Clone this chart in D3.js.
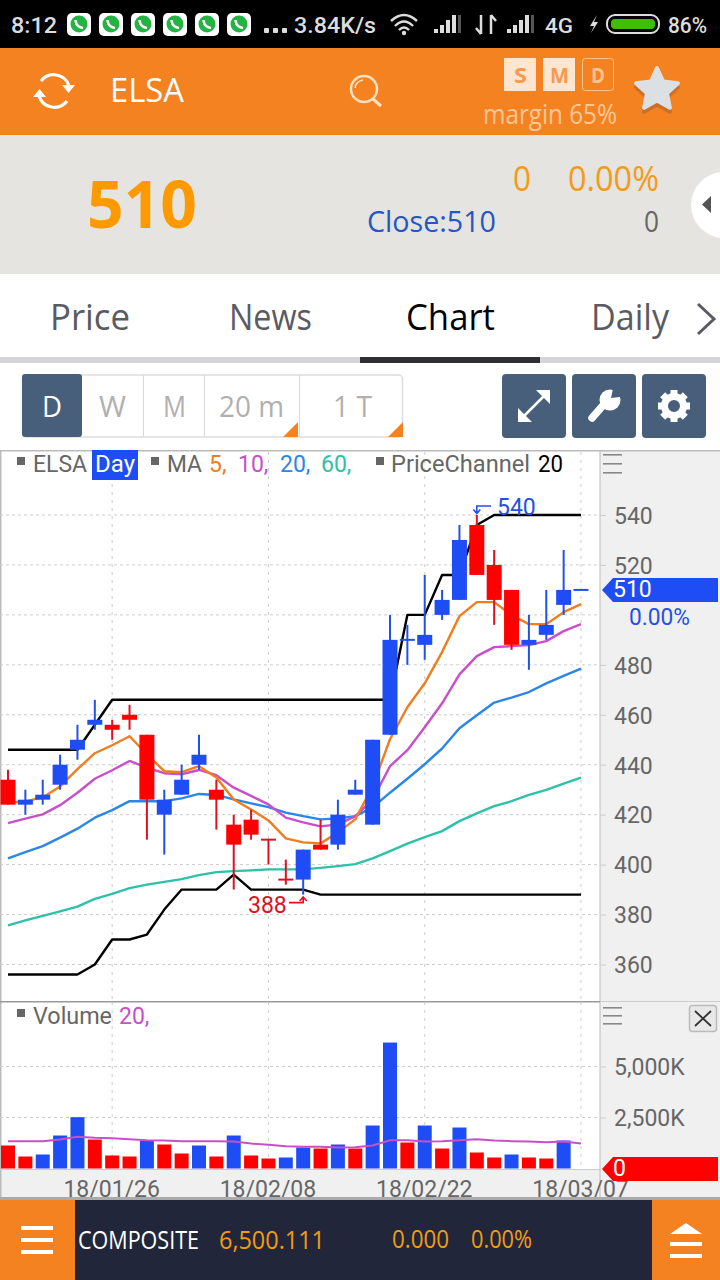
<!DOCTYPE html>
<html lang="en">
<head>
    <meta charset="UTF-8">
    <title>ELSA Chart</title>
    <script src="https://cdn.jsdelivr.net/npm/d3@7"></script>
    <style type="text/css">
        html, body {
            margin: 0;
            padding: 0;
            background: #fff;
        }

        svg {
            display: block;
        }

        .axis path {
            display: none;
        }

        .axis line {
            stroke: #ccc;
        }

        .axis text {
            font-family: Roboto, sans-serif;
            font-size: 23px;
            fill: #666;
        }
    </style>
</head>
<body>
<div id="chart"></div>
<script>
    var dates = ["18/01/18", "18/01/19", "18/01/22", "18/01/23", "18/01/24", "18/01/25", "18/01/26", "18/01/29", "18/01/30", "18/01/31",
        "18/02/01", "18/02/02", "18/02/05", "18/02/06", "18/02/07", "18/02/08", "18/02/09", "18/02/12", "18/02/13", "18/02/14",
        "18/02/15", "18/02/19", "18/02/20", "18/02/21", "18/02/22", "18/02/23", "18/02/26", "18/02/27", "18/02/28", "18/03/01",
        "18/03/02", "18/03/05", "18/03/06", "18/03/07"];
    var dateTicks = ["18/01/26", "18/02/08", "18/02/22", "18/03/07"];
    var priceTicks = [360, 380, 400, 420, 440, 460, 480, 500, 520, 540];
    var priceLabels = [360, 380, 400, 420, 440, 460, 480, 520, 540];
    var volumeTicks = [2500, 5000];

    var open = [434, 424, 426, 432, 446, 456, 456, 460, 452, 420, 428, 440, 430, 416, 418, 410, 394, 394, 408, 408, 428, 416, 452, 490, 488, 500, 506, 536, 520, 510, 488, 492, 504, 510];
    var high = [438, 430, 434, 444, 456, 466, 458, 464, 452, 430, 440, 452, 434, 420, 422, 410, 402, 406, 418, 426, 434, 450, 500, 496, 516, 510, 536, 540, 526, 510, 500, 510, 526, 510];
    var low = [424, 420, 424, 430, 442, 454, 450, 454, 410, 404, 428, 438, 414, 390, 410, 400, 392, 388, 406, 406, 428, 416, 452, 480, 482, 498, 506, 516, 496, 486, 478, 490, 500, 510];
    var close = [424, 426, 428, 440, 450, 458, 454, 458, 426, 426, 434, 444, 426, 408, 412, 410, 394, 406, 406, 420, 430, 450, 490, 490, 492, 506, 530, 516, 506, 488, 490, 496, 510, 510];

    var ma5 = [424.9, 425.3, 426.9, 431.3, 438.2, 444.6, 447.8, 451.4, 444.2, 437.4, 437.0, 439.4, 434.9, 426.1, 422.1, 417.7, 410.5, 408.9, 408.5, 412.9, 418.1, 431.3, 450.2, 463.0, 472.6, 485.1, 499.5, 505.1, 505.1, 499.9, 496.3, 496.3, 501.1, 504.3];
    var ma10 = [416.6, 418.4, 420.1, 423.8, 428.8, 434.4, 437.8, 441.5, 438.8, 436.6, 436.2, 437.9, 435.8, 430.8, 427.5, 424.1, 418.8, 416.9, 415.3, 416.1, 419.3, 426.1, 439.4, 445.8, 455.0, 464.6, 476.2, 483.5, 487.1, 487.5, 487.9, 489.5, 493.5, 496.3];
    var ma20 = [402.5, 405.0, 407.4, 410.8, 414.4, 418.8, 421.8, 425.4, 425.4, 425.4, 426.5, 428.3, 427.9, 426.1, 424.5, 423.0, 420.8, 419.4, 418.1, 418.5, 419.4, 422.9, 428.8, 434.4, 440.2, 446.5, 454.6, 459.8, 464.9, 466.9, 469.1, 472.6, 475.6, 478.5];
    var ma60 = [375.7, 377.7, 379.5, 381.3, 383.2, 386.3, 388.3, 390.6, 392.0, 393.1, 394.2, 395.8, 397.0, 397.4, 397.7, 398.1, 398.1, 398.1, 398.7, 399.4, 400.2, 402.5, 405.4, 408.4, 411.0, 413.4, 417.4, 420.5, 423.4, 425.4, 427.9, 429.9, 432.4, 434.8];
    var channelHigh = [446, 446, 446, 446, 446, 456, 466, 466, 466, 466, 466, 466, 466, 466, 466, 466, 466, 466, 466, 466, 466, 466, 466, 500, 500, 516, 516, 536, 540, 540, 540, 540, 540, 540];
    var channelLow = [356, 356, 356, 356, 356, 360, 370, 370, 372, 382, 390, 390, 390, 396, 390, 390, 390, 390, 388, 388, 388, 388, 388, 388, 388, 388, 388, 388, 388, 388, 388, 388, 388, 388];

    var volume = [1127, 588, 686, 1617, 2515, 1421, 637, 588, 1372, 1176, 735, 1127, 588, 1617, 637, 490, 539, 1029, 980, 1176, 980, 2107, 6174, 1274, 2107, 980, 2009, 784, 539, 686, 539, 490, 1372, 0];
    var volumeMa = [1339, 1339, 1339, 1421, 1552, 1503, 1486, 1437, 1388, 1372, 1339, 1339, 1339, 1323, 1225, 1160, 1094, 1062, 1062, 1029, 1045, 1127, 1388, 1388, 1323, 1339, 1388, 1437, 1372, 1339, 1323, 1290, 1323, 1225];

    var RED = "#ff0000", BLUE = "#1f4df5", ORANGE = "#f58220", SLATE = "#475f7b";
    var UI_FONT = "'Open Sans', sans-serif", CHART_FONT = "Roboto, sans-serif";

    var svg = d3.select("#chart").append("svg").attr("width", 720).attr("height", 1280);

    var x = d3.scalePoint().domain(dates).range([8, 581]);
    var yPrice = d3.scaleLinear().domain([360, 540]).range([964.5, 515]);
    var yVolume = d3.scaleLinear().domain([0, 5000]).range([1168.5, 1066.5]);

    // text helper, width pins the string to the measured width of the screenshot
    function label(px, py, str, size, color, width, family, weight) {
        var t = svg.append("text")
            .attr("x", px).attr("y", py)
            .attr("font-family", family || UI_FONT)
            .attr("font-size", size)
            .attr("font-weight", weight || 400)
            .attr("fill", color)
            .text(str);
        if (width) {
            t.attr("textLength", width).attr("lengthAdjust", "spacingAndGlyphs");
        }
        return t;
    }

    function box(px, py, w, h, fill, r) {
        return svg.append("rect")
            .attr("x", px).attr("y", py).attr("width", w).attr("height", h)
            .attr("rx", r || 0).attr("fill", fill);
    }

    function stroke(d, color, w) {
        return svg.append("path").attr("d", d).attr("fill", "none")
            .attr("stroke", color).attr("stroke-width", w);
    }

    function drawStatusBar() {
        box(0, 0, 720, 48, "#000");
        label(11, 33, "8:12", 22, "#ddd", 46, CHART_FONT, 500);
        [67, 99, 131, 163, 195, 227].forEach(function (ix) {
            box(ix, 13, 24, 23, "#fff", 5);
            svg.append("circle").attr("cx", ix + 12).attr("cy", 24).attr("r", 8.5).attr("fill", "#25b245");
            stroke("M" + (ix + 8.5) + " 20Q" + (ix + 9) + " 27 " + (ix + 16) + " 28", "#fff", 2.6);
        });
        [264, 273, 282].forEach(function (dx) {
            box(dx, 28, 5, 5, "#ddd", 1);
        });
        label(294, 33, "3.84K/s", 22, "#ddd", 82, CHART_FONT, 500);
        stroke("M391 21Q404 9 417 21M395 26Q404 17 413 26M399 30Q404 25 409 30", "#ddd", 2.4);
        svg.append("circle").attr("cx", 404).attr("cy", 33).attr("r", 2.2).attr("fill", "#ddd");
        [434, 507].forEach(function (sx) {
            [[0, 4], [6, 8], [12, 13], [18, 18]].forEach(function (b) {
                box(sx + b[0], 33 - b[1], 4, b[1], "#ddd");
            });
            box(sx + 24, 15, 3, 18, "#555");
        });
        stroke("M481 15V34M476 28L481 34M491 15V34M491 15L496 21", "#ddd", 2.5);
        label(545, 33, "4G", 21, "#ddd", 28, CHART_FONT, 500);
        svg.append("path").attr("d", "M597 15L590 26H594L591 33L598 22H594Z").attr("fill", "#ddd");
        box(607, 15, 52, 18, "none", 8).attr("stroke", "#ddd").attr("stroke-width", 2);
        box(611, 19, 44, 10, "#3fbf00", 4);
        label(668, 33, "86%", 22, "#ddd", 39, CHART_FONT, 500);
    }

    function drawHeader() {
        box(0, 48, 720, 87, ORANGE);
        stroke("M41 81A16 16 0 0 1 69 86M67 101A16 16 0 0 1 39 96", "#fff", 3.2);
        svg.append("path").attr("d", "M62 85H75L68.5 93Z").attr("fill", "#fff");
        svg.append("path").attr("d", "M33 97H46L39.5 89Z").attr("fill", "#fff");
        label(110, 102, "ELSA", 33, "#fff", 74);
        svg.append("circle").attr("cx", 364).attr("cy", 89).attr("r", 13).attr("fill", "none")
            .attr("stroke", "#fde0c0").attr("stroke-width", 2.5);
        stroke("M373 99L381 106", "#fde0c0", 3);
        stroke("M355 88A9 9 0 0 1 363 80", "#fde0c0", 1.5);
        box(504, 58, 32, 33, "#fde5cf");
        box(543, 58, 32, 33, "#fde5cf");
        box(582.5, 58.5, 31, 32, "none", 3).attr("stroke", "#fbc48f").attr("stroke-width", 1);
        label(514, 83, "S", 22, "#f59a50", 13, UI_FONT, 700);
        label(550, 83, "M", 22, "#f59a50", 19, UI_FONT, 700);
        label(591, 83, "D", 22, "#fbc48f", 14, UI_FONT, 700);
        label(483, 124, "margin 65%", 27, "#fbc895", 134);
        var star = d3.range(10).map(function (i) {
            var r = i % 2 ? 10.5 : 22, a = -Math.PI / 2 + i * Math.PI / 5;
            return [r * Math.cos(a), r * Math.sin(a)];
        });
        svg.append("polygon").attr("points", star.map(function (p) { return (p[0] + 657) + "," + (p[1] + 94); }).join(" "))
            .attr("fill", "#c9702a").attr("stroke", "#c9702a").attr("stroke-width", 4).attr("stroke-linejoin", "round");
        svg.append("polygon").attr("points", star.map(function (p) { return (p[0] + 657) + "," + (p[1] + 90); }).join(" "))
            .attr("fill", "#dde0e3").attr("stroke", "#dde0e3").attr("stroke-width", 4).attr("stroke-linejoin", "round");
    }

    function drawQuote() {
        box(0, 135, 720, 139, "#e5e4e1");
        label(87, 228, "510", 67, "#ff9900", 110, UI_FONT, 700);
        label(513, 191, "0", 35, "#f59a17", 18);
        label(568, 191, "0.00%", 35, "#f59a17", 91);
        label(367, 232, "Close:510", 30, "#2456c6", 129);
        label(644, 232, "0", 30, "#666", 15);
        svg.append("circle").attr("cx", 724).attr("cy", 205).attr("r", 33).attr("fill", "#fff");
        svg.append("path").attr("d", "M711 196V213L702 204.5Z").attr("fill", "#555");
    }

    function drawTabs() {
        box(0, 274, 720, 83, "#fff");
        label(50, 330, "Price", 36, "#5a5a62", 80);
        label(229, 330, "News", 36, "#5a5a62", 83);
        label(406, 330, "Chart", 36, "#000", 89);
        label(591, 330, "Daily", 36, "#5a5a62", 78);
        stroke("M698 304L714 319L698 334", "#5a5a62", 3);
        box(0, 357, 720, 6, "#d5d5d9");
        box(360, 357, 180, 6, "#2e2e33");
    }

    function drawToolbar() {
        box(22.5, 375, 380, 62, "#fff", 4).attr("stroke", "#ddd").attr("stroke-width", 1.5);
        box(22, 374, 60, 63, SLATE, 3);
        [143, 204, 299].forEach(function (dx) {
            box(dx, 375, 1, 62, "#d8d8d8");
        });
        label(42, 417, "D", 29, "#fff", 20);
        label(99, 417, "W", 29, "#b0b0b0", 27);
        label(163, 417, "M", 29, "#b0b0b0", 23);
        label(219, 417, "20 m", 29, "#b0b0b0", 65);
        label(333, 417, "1 T", 29, "#b0b0b0", 39);
        svg.append("path").attr("d", "M283 437L298 437L298 422Z").attr("fill", ORANGE);
        svg.append("path").attr("d", "M388 437L403 437L403 422Z").attr("fill", ORANGE);

        box(502, 374, 64, 64, SLATE, 4);
        box(572, 374, 64, 64, SLATE, 4);
        box(642, 374, 64, 64, SLATE, 4);
        stroke("M522 418L546 394", "#fff", 2.5);
        svg.append("path").attr("d", "M550 390V404L536 390ZM518 422V408L532 422Z").attr("fill", "#fff");
        // wrench: handle, round head, jaw cut out towards the upper right
        stroke("M592 418L606 402", "#fff", 7.5).attr("stroke-linecap", "round");
        svg.append("circle").attr("cx", 610).attr("cy", 400).attr("r", 10.5).attr("fill", "#fff");
        svg.append("path").attr("d", "M611 398L614 384L628 396Z").attr("fill", SLATE);
        svg.append("circle").attr("cx", 674).attr("cy", 406).attr("r", 9.5).attr("fill", "none")
            .attr("stroke", "#fff").attr("stroke-width", 7);
        d3.range(8).forEach(function (i) {
            box(670.5, 390, 7, 8, "#fff").attr("transform", "rotate(" + i * 45 + " 674 406)");
        });
    }

    function gridLines(ticks, yScale, top, bottom) {
        svg.append("g").selectAll("line").data(ticks).enter().append("line")
            .attr("x1", 0).attr("x2", 600)
            .attr("y1", yScale).attr("y2", yScale)
            .attr("stroke", "#ccc").attr("stroke-dasharray", "3,3");
        svg.append("g").selectAll("line").data(dateTicks).enter().append("line")
            .attr("x1", x).attr("x2", x)
            .attr("y1", top).attr("y2", bottom)
            .attr("stroke", "#ccc").attr("stroke-dasharray", "3,5");
    }

    function drawPanels() {
        box(600, 451, 120, 746, "#f0f0f0");
        box(0, 1170, 720, 27, "#f0f0f0");
        box(0, 450, 720, 1.5, "#bbb");
        box(0, 450, 1.5, 748, "#bbb");
        box(599.5, 451, 1, 746, "#bbb");
        box(0, 1001, 600, 1.5, "#999");
        box(600, 1001, 120, 1, "#ccc");
        box(0, 1169, 600, 1, "#ccc");
        [454, 463, 472, 1007, 1015, 1023].forEach(function (ly) {
            box(603, ly, 19, 1.6, "#888");
        });
        box(689.5, 1005.5, 27, 26, "#e8e8e8", 3).attr("stroke", "#bbb").attr("stroke-width", 1.5);
        stroke("M695 1011L711 1026M711 1011L695 1026", "#333", 1.8);
    }

    function seriesLine(values, yScale, color, w) {
        var line = d3.line()
            .x(function (d, i) { return x(dates[i]); })
            .y(function (d) { return yScale(d); });
        svg.append("path").datum(values)
            .attr("d", line)
            .attr("fill", "none")
            .attr("stroke", color)
            .attr("stroke-width", w)
            .attr("stroke-linejoin", "round");
    }

    function drawCandles() {
        var idx = d3.range(dates.length);
        var isDown = function (i) { return close[i] < open[i] || (close[i] === open[i] && i < 20); };
        var g = svg.append("g");
        g.selectAll("line.wick").data(idx).enter().append("line")
            .attr("class", "wick")
            .attr("x1", function (i) { return x(dates[i]); })
            .attr("x2", function (i) { return x(dates[i]); })
            .attr("y1", function (i) { return yPrice(high[i]); })
            .attr("y2", function (i) { return yPrice(low[i]); })
            .attr("stroke", function (i) { return isDown(i) ? "#dd1122" : "#2450e8"; })
            .attr("stroke-width", 2);
        g.selectAll("rect.body").data(idx).enter().append("rect")
            .attr("class", "body")
            .attr("x", function (i) { return x(dates[i]) - 7.5; })
            .attr("width", 15)
            .attr("y", function (i) { return yPrice(Math.max(open[i], close[i])) - (open[i] === close[i] ? 1 : 0); })
            .attr("height", function (i) {
                return open[i] === close[i] ? 2 : yPrice(Math.min(open[i], close[i])) - yPrice(Math.max(open[i], close[i]));
            })
            .attr("fill", function (i) {
                if (open[i] === close[i]) {
                    return isDown(i) ? "#dd1122" : "#2450e8";
                }
                return isDown(i) ? RED : BLUE;
            });
    }

    function drawVolume() {
        var idx = d3.range(dates.length).filter(function (i) { return volume[i] > 0; });
        svg.append("g").selectAll("rect").data(idx).enter().append("rect")
            .attr("x", function (i) { return x(dates[i]) - 7; })
            .attr("width", 14)
            .attr("y", function (i) { return yVolume(volume[i]); })
            .attr("height", function (i) { return yVolume(0) - yVolume(volume[i]); })
            // bars compare with the previous day's volume, not with the candle
            .attr("fill", function (i) { return i > 0 && volume[i] > volume[i - 1] ? BLUE : RED; });
        seriesLine(volumeMa, yVolume, "#c94fc9", 2);
    }

    function drawAxes() {
        svg.append("g").attr("class", "axis").attr("transform", "translate(600,0)")
            .call(d3.axisRight(yPrice).tickValues(priceLabels).tickSize(6).tickPadding(8));
        svg.append("g").attr("class", "axis").attr("transform", "translate(600,0)")
            .call(d3.axisRight(yVolume).tickValues(volumeTicks).tickSize(6).tickPadding(8)
                .tickFormat(function (d) { return d3.format(",")(d) + "K"; }));
        svg.selectAll(".axis .tick text").attr("dy", "0.36em");

        // date labels hang off the point scale and run past the plot edge on the right
        var dateAxis = svg.append("g").attr("class", "axis").attr("transform", "translate(-1,1170)")
            .call(d3.axisBottom(x).tickValues(dateTicks).tickSize(0).tickPadding(0));
        dateAxis.selectAll("text").attr("dy", 0).attr("y", 26.5);
    }

    function priceTag(ty, h, color, str) {
        svg.append("path")
            .attr("d", "M602 " + ty + "L613 " + (ty - h / 2) + "H718V" + (ty + h / 2) + "H613Z")
            .attr("fill", color);
        label(613, ty + 7, str, 23, "#fff", 0, CHART_FONT);
    }

    function drawLegend() {
        var lg = 472;
        box(17, 457, 8, 8, "#666");
        label(33, lg, "ELSA", 23, "#666", 54, CHART_FONT);
        box(92, 450, 46, 30, BLUE);
        label(95, lg, "Day", 23, "#fff", 40, CHART_FONT);
        box(151, 457, 8, 8, "#666");
        label(167, lg, "MA", 23, "#666", 35, CHART_FONT);
        label(209, lg, "5,", 23, "#f07d1e", 0, CHART_FONT);
        label(238, lg, "10,", 23, "#c94fc9", 0, CHART_FONT);
        label(280, lg, "20,", 23, "#2a86e8", 0, CHART_FONT);
        label(321, lg, "60,", 23, "#2fc0a8", 0, CHART_FONT);
        box(376, 457, 8, 8, "#666");
        label(391, lg, "PriceChannel", 23, "#666", 139, CHART_FONT);
        label(538, lg, "20", 23, "#000", 25, CHART_FONT);

        box(17, 1009, 8, 8, "#666");
        label(33, 1024, "Volume", 23, "#666", 79, CHART_FONT);
        label(119, 1024, "20,", 23, "#c94fc9", 0, CHART_FONT);
    }

    function drawMarkers() {
        var hiY = yPrice(d3.max(high)), loY = yPrice(d3.min(low));
        var hiX = x(dates[high.indexOf(d3.max(high))]), loX = x(dates[low.indexOf(d3.min(low))]);
        label(497, 515, d3.max(high), 23, "#2450e8", 0, CHART_FONT);
        stroke("M491 " + (hiY - 9) + "H" + hiX + "V" + (hiY - 2) + "M" + (hiX - 3.5) + " " + (hiY - 5.5) + "L" + hiX + " " + (hiY - 1.5) + "L" + (hiX + 3.5) + " " + (hiY - 5.5), "#2450e8", 1.6);
        label(248, 913, d3.min(low), 23, "#e01020", 0, CHART_FONT);
        stroke("M289 " + (loY + 8) + "H" + loX + "V" + (loY + 3) + "M" + (loX - 3.5) + " " + (loY + 6.5) + "L" + loX + " " + (loY + 2.5) + "L" + (loX + 3.5) + " " + (loY + 6.5), "#e01020", 1.6);
    }

    function drawFooter() {
        box(0, 1197, 720, 3, "#aaa");
        box(0, 1200, 720, 80, "#22263a");
        box(0, 1200, 75, 80, ORANGE);
        box(652, 1200, 68, 80, ORANGE);
        [1226, 1238, 1250].forEach(function (by) {
            box(21, by, 32, 4, "#fff");
        });
        svg.append("path").attr("d", "M670 1234L686 1223L702 1234Z").attr("fill", "#fff");
        box(670, 1242, 32, 4, "#fff");
        box(670, 1254, 32, 4, "#fff");
        label(78, 1249, "COMPOSITE", 25, "#fff", 121);
        label(219, 1249, "6,500.111", 25, "#f39c12", 106);
        label(392, 1248, "0.000", 25, "#f39c12", 57);
        label(471, 1248, "0.00%", 25, "#f39c12", 61);
    }

    function render() {
        drawStatusBar();
        drawHeader();
        drawQuote();
        drawTabs();
        drawToolbar();
        drawPanels();
        gridLines(priceTicks, yPrice, 452, 1001);
        gridLines(volumeTicks, yVolume, 1002, 1169);
        seriesLine(channelHigh, yPrice, "#000", 2.4);
        seriesLine(channelLow, yPrice, "#000", 2.4);
        seriesLine(ma60, yPrice, "#2fc0a8", 2.4);
        seriesLine(ma20, yPrice, "#2a86e8", 2.4);
        seriesLine(ma10, yPrice, "#c94fc9", 2.4);
        seriesLine(ma5, yPrice, "#f07d1e", 2.4);
        drawCandles();
        drawVolume();
        drawAxes();
        priceTag(yPrice(close[close.length - 1]), 24, BLUE, close[close.length - 1]);
        label(629, 625, "0.00%", 23, "#2450e8", 61, CHART_FONT);
        priceTag(1169, 24, RED, volume[volume.length - 1]);
        drawLegend();
        drawMarkers();
        drawFooter();
    }

    render();
</script>
</body>
</html>
